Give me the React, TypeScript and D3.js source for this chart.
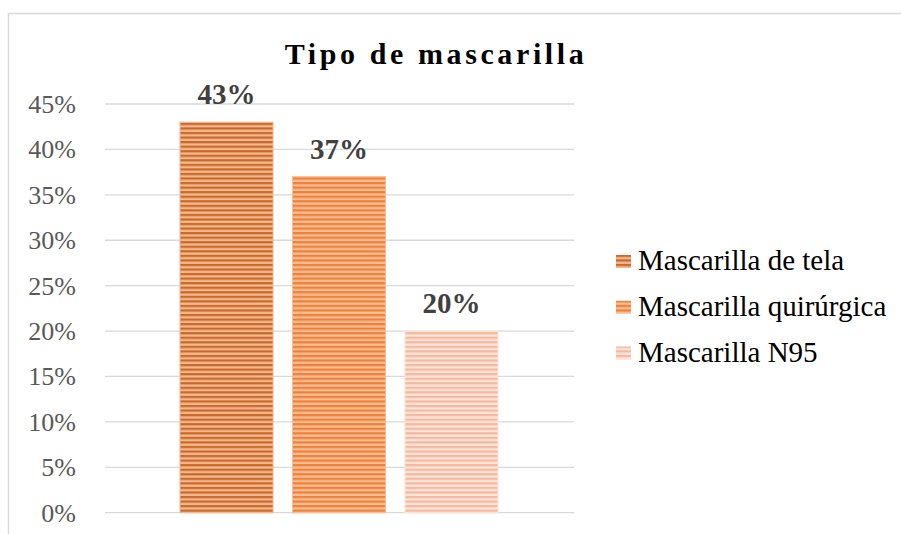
import React from "react";
import * as d3 from "d3";

const title = "Tipo de mascarilla";
const series = ["Mascarilla de tela", "Mascarilla quirúrgica", "Mascarilla N95"];
const values = [0.43, 0.37, 0.2];
const labels = ["43%", "37%", "20%"];
const yTicks = [0, 0.05, 0.1, 0.15, 0.2, 0.25, 0.3, 0.35, 0.4, 0.45];
const darkColors = ["#cb682a", "#ee803b", "#f4b8a0"];
const lightColors = ["#f2b88e", "#f9bd92", "#fde4d8"];

const W = 901;
const H = 534;
const FONT = "'Liberation Serif', 'Times New Roman', serif";

export default function App() {
  const y = d3.scaleLinear().domain([0, 0.45]).range([512.7, 104]);
  const x = d3.scaleBand<string>().domain(series).range([180, 498]).paddingInner(0.173).paddingOuter(0);
  const legendY = d3.scalePoint<string>().domain(series).range([270, 361.5]);
  const fmt = d3.format(".0%");
  const gridX0 = 105;
  const gridX1 = 574;

  return (
    <svg width={W} height={H} style={{ position: "absolute", left: 0, top: 0, background: "#fff" }}>
      <defs>
        {series.map((s, i) => (
          <pattern key={s} id={`stripe${i}`} patternUnits="userSpaceOnUse" width={10} height={4.55}>
            <rect x={0} y={0} width={10} height={4.55} fill={lightColors[i]} />
            <rect x={0} y={0} width={10} height={2.2} fill={darkColors[i]} />
          </pattern>
        ))}
      </defs>
      <rect x={8.5} y={13.5} width={W} height={H} fill="#fff" stroke="#d9d9d9" strokeWidth={1.5} />
      <text
        x={436}
        y={64}
        textAnchor="middle"
        fontFamily={FONT}
        fontWeight="bold"
        fontSize={30}
        letterSpacing={3.6}
        fill="#000"
      >
        {title}
      </text>
      {yTicks.map((t) => (
        <g key={t}>
          <line x1={gridX0} x2={gridX1} y1={y(t)} y2={y(t)} stroke="#d9d9d9" strokeWidth={1.3} />
          <text x={76} y={y(t) + 9} textAnchor="end" fontFamily={FONT} fontSize={26} fill="#595959">
            {fmt(t)}
          </text>
        </g>
      ))}
      {series.map((s, i) => (
        <g key={s}>
          <rect
            x={x(s)}
            y={y(values[i])}
            width={x.bandwidth()}
            height={y(0) - y(values[i])}
            fill={`url(#stripe${i})`}
            stroke={lightColors[i]}
            strokeWidth={1}
          />
          <text
            x={(x(s) as number) + x.bandwidth() / 2}
            y={y(values[i]) - 18}
            textAnchor="middle"
            fontFamily={FONT}
            fontWeight="bold"
            fontSize={29}
            fill="#404040"
          >
            {labels[i]}
          </text>
        </g>
      ))}
      {series.map((s, i) => (
        <g key={s + "leg"}>
          <rect x={616} y={(legendY(s) as number) - 15} width={15} height={13} fill={`url(#stripe${i})`} />
          <text x={638} y={legendY(s)} fontFamily={FONT} fontSize={29} fill="#000">
            {s}
          </text>
        </g>
      ))}
    </svg>
  );
}
